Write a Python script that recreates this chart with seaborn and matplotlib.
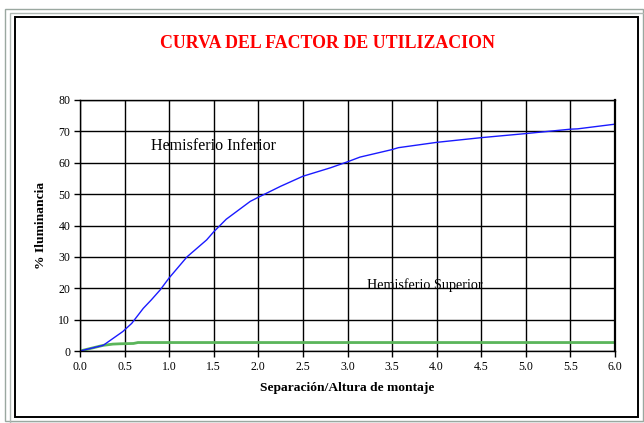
import matplotlib
matplotlib.use("Agg")
import matplotlib.pyplot as plt
import seaborn as sns
import pandas as pd
from matplotlib.patches import Rectangle

# values
sep_inf = [0.0, 0.26, 0.48, 0.58, 0.71, 0.8, 0.9, 1.0, 1.2, 1.42, 1.5, 1.64, 1.91, 2.0,
           2.25, 2.5, 2.81, 3.0, 3.14, 3.5, 3.57, 4.0, 4.5, 5.0, 5.5, 5.58, 6.0]
ilum_inf = [0.0, 1.8, 6.2, 8.8, 13.6, 16.3, 19.5, 23.3, 30.0, 35.4, 38.0, 42.0, 47.7, 49.0,
            52.5, 55.7, 58.4, 60.3, 61.8, 64.2, 64.8, 66.5, 68.0, 69.3, 70.7, 70.8, 72.3]

sep_sup = [0.0, 0.26, 0.37, 0.45, 0.6, 0.65, 1.0, 2.0, 3.0, 4.0, 5.0, 6.0]
ilum_sup = [0.0, 1.8, 2.2, 2.3, 2.4, 2.7, 2.7, 2.7, 2.7, 2.7, 2.7, 2.7]

x_ticks = [0.0, 0.5, 1.0, 1.5, 2.0, 2.5, 3.0, 3.5, 4.0, 4.5, 5.0, 5.5, 6.0]
y_ticks = [0, 10, 20, 30, 40, 50, 60, 70, 80]

df_inf = pd.DataFrame({"sep": sep_inf, "ilum": ilum_inf})
df_sup = pd.DataFrame({"sep": sep_sup, "ilum": ilum_sup})

sns.set_theme(style="white")
plt.rcParams["font.family"] = ["Liberation Serif", "DejaVu Serif"]
plt.rcParams["text.color"] = "black"
plt.rcParams["axes.labelcolor"] = "black"
plt.rcParams["xtick.color"] = "black"
plt.rcParams["ytick.color"] = "black"

fig = plt.figure(figsize=(6.44, 4.23), dpi=100)
ax = fig.add_axes([0.1242, 0.1702, 0.8308, 0.5934])

# outer frames
fig.patches.append(Rectangle((0.008, 0.004), 0.99, 0.975, transform=fig.transFigure,
                             fill=False, edgecolor="#9aa8a0", linewidth=1.0))
fig.patches.append(Rectangle((0.0155, 0.0), 0.99, 0.97, transform=fig.transFigure,
                             fill=False, edgecolor="#b0b8b4", linewidth=1.0))
fig.patches.append(Rectangle((0.0235, 0.0142), 0.967, 0.946, transform=fig.transFigure,
                             fill=False, edgecolor="black", linewidth=1.4))

sns.lineplot(data=df_sup, x="sep", y="ilum", ax=ax, color="#5ab55a", linewidth=2.0)
sns.lineplot(data=df_inf, x="sep", y="ilum", ax=ax, color="#1a1aff", linewidth=1.0)

ax.set_xlim(0, 6)
ax.set_ylim(0, 80)
ax.set_xticks(x_ticks)
ax.set_xticklabels([f"{v:.1f}" for v in x_ticks])
ax.set_yticks(y_ticks)
ax.grid(True, color="black", linewidth=1.0)
ax.set_axisbelow(True)
for s in ax.spines.values():
    s.set_color("black")
    s.set_linewidth(1.0)
ax.spines["right"].set_linewidth(1.6)
ax.tick_params(axis="both", which="major", direction="out", length=4, width=1,
               color="black", labelcolor="black", labelsize=8.5, pad=3,
               bottom=True, left=True)

ax.set_xlabel("Separación/Altura de montaje", fontsize=9.7, fontweight="bold", labelpad=7)
ax.set_ylabel("% Iluminancia", fontsize=9.7, fontweight="bold", labelpad=8)

ax.text(0.8, 65.4, "Hemisferio Inferior", fontsize=11.5, va="center", ha="left")
ax.text(3.22, 21.0, "Hemisferio Superior", fontsize=10.2, va="center", ha="left")

fig.text(0.508, 0.898, "CURVA DEL FACTOR DE UTILIZACION", color="red",
         fontsize=12.9, fontweight="bold", ha="center", va="center")

fig.savefig("out.png", dpi=100)
